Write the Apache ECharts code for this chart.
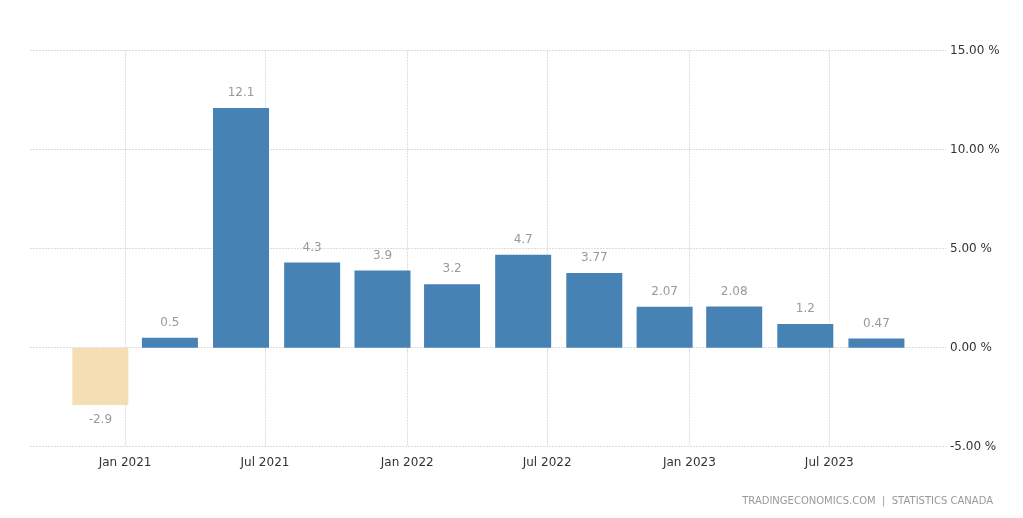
<!DOCTYPE html>
<html><head><meta charset="utf-8">
<script src="https://cdn.jsdelivr.net/npm/echarts@6/dist/echarts.min.js"></script>
<style>html,body{margin:0;padding:0;background:#fff}#c{width:1023px;height:518px}</style>
</head><body><div id="c"></div>
<script>
const dates = ['2020-11-30','2021-02-28','2021-05-31','2021-08-31','2021-11-30','2022-02-28','2022-05-31','2022-08-31','2022-11-30','2023-02-28','2023-05-31','2023-08-31'];
const values = [-2.9, 0.5, 12.1, 4.3, 3.9, 3.2, 4.7, 3.77, 2.07, 2.08, 1.2, 0.47];
const labels = ['-2.9','0.5','12.1','4.3','3.9','3.2','4.7','3.77','2.07','2.08','1.2','0.47'];
const xTicks = ['2021-01-01','2021-07-01','2022-01-01','2022-07-01','2023-01-01','2023-07-01'];
const xTickLabels = ['Jan 2021','Jul 2021','Jan 2022','Jul 2022','Jan 2023','Jul 2023'];
const DAY = 86400000;
const day = s => { const p = s.split('-'); return Math.round(Date.UTC(+p[0], +p[1]-1, +p[2]) / DAY); };
const tickDays = xTicks.map(day);
const font = 'DejaVu Sans';
const chart = echarts.init(document.getElementById('c'));
chart.setOption({
  animation: false,
  grid: {left: 30, right: 77, top: 50.7, bottom: 71.3},
  xAxis: {
    type: 'value', min: day('2020-08-31'), max: day('2023-11-29'),
    axisLine: {show: false},
    axisTick: {show: true, customValues: tickDays, length: 4, lineStyle: {color: '#ddd'}},
    axisLabel: {customValues: tickDays, color: '#333', fontFamily: font, fontSize: 12, margin: 10,
      formatter: v => xTickLabels[tickDays.indexOf(v)] || ''},
    splitLine: {show: true, lineStyle: {color: '#ddd', type: [2, 1]}}
  },
  yAxis: {
    type: 'value', position: 'right', min: -5, max: 15, interval: 5,
    axisLine: {show: false}, axisTick: {show: false},
    axisLabel: {color: '#333', fontFamily: font, fontSize: 12, margin: 4,
      formatter: v => v.toFixed(2) + ' %'},
    splitLine: {lineStyle: {color: '#ddd', type: [2, 1]}}
  },
  series: [{
    type: 'bar', barWidth: 56,
    data: dates.map((d, i) => ({
      value: [day(d), values[i]],
      itemStyle: {color: values[i] < 0 ? '#F5DEB3' : '#4682B4'},
      label: {position: values[i] < 0 ? 'bottom' : 'top'}
    })),
    label: {show: true, color: '#999', fontFamily: font, fontSize: 12, distance: 9,
      formatter: p => labels[p.dataIndex]}
  }],
  graphic: [{type: 'text', right: 30, top: 496,
    style: {text: 'TRADINGECONOMICS.COM  |  STATISTICS CANADA', fill: '#999', font: '10px "DejaVu Sans"'}}]
});
</script></body></html>
